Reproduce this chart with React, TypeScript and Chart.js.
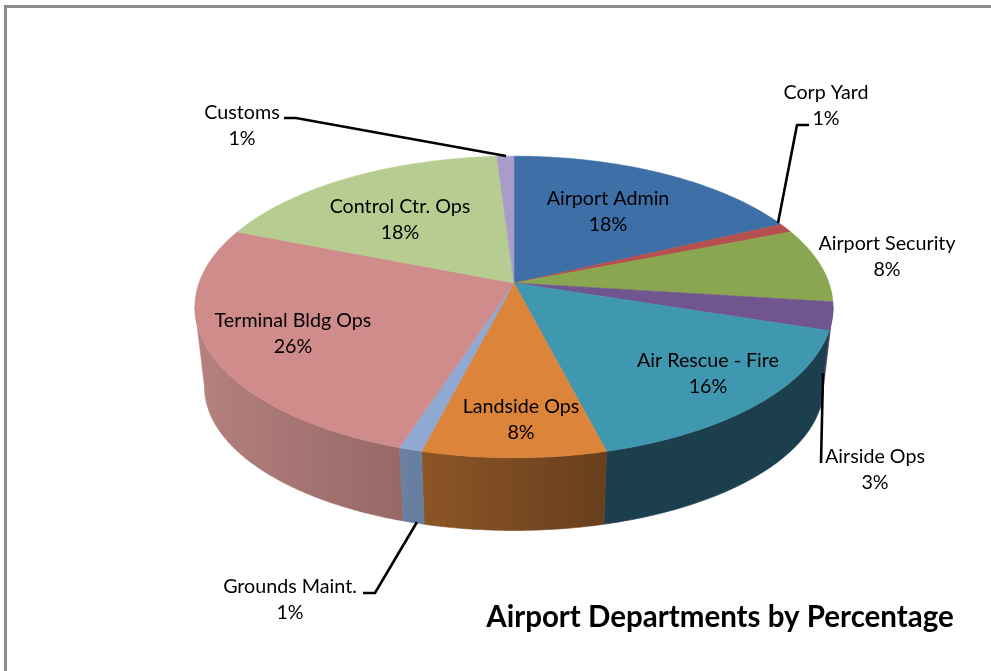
import React, { useEffect, useRef } from "react";
import { Chart, registerables } from "chart.js";

Chart.register(...registerables);

const departments = [
  "Airport Admin", "Corp Yard", "Airport Security", "Airside Ops", "Air Rescue - Fire",
  "Landside Ops", "Grounds Maint.", "Terminal Bldg Ops", "Control Ctr. Ops", "Customs",
];
const shares = [18, 1, 8, 3, 16, 8, 1, 26, 18, 1];
const topColors = [
  "#3f6fa7", "#b5504e", "#8aa650", "#71558f", "#4097b0",
  "#dc843a", "#8fa9d3", "#cf8c8b", "#b6cc90", "#a99cc9",
];
// Left and right ends of the horizontal shading on each slice's outer wall.
const wallShades = [
  ["#2c4e75", "#2c4e75"], ["#7d3735", "#7d3735"], ["#5f7337", "#5f7337"], ["#4c3961", "#4c3961"],
  ["#1c3f4d", "#1c3f4d"], ["#8c5526", "#683f1d"], ["#6a81a3", "#667d9e"], ["#b6817f", "#956866"],
  ["#7f8e64", "#7f8e64"], ["#74699a", "#74699a"],
];
const labelCenters = [
  [608, 199], [826, 93], [887, 244], [875, 457], [708, 361],
  [521, 407], [290, 587], [293, 321], [400, 207], [242, 113],
];
const leaderLines: (number[][] | null)[] = [
  null,
  [[809, 125], [797, 125], [778, 223]],
  null,
  [[823, 373], [821, 463]],
  null, null,
  [[363, 593], [375, 593], [417, 522]],
  null, null,
  [[284, 118], [296, 118], [506, 156]],
];
const chartTitle = "Airport Departments by Percentage";

const FONT = "Lato, 'Open Sans', sans-serif";
const LABEL_LINE = 26;
const VIEW_W = 991;
const VIEW_H = 671;

// Perspective of the tilted disc: top face and the smaller bottom face.
const TILT = 0.159;
const TOP_FACE = { xScale: 1, yScale: 147 / 315, dy: 0 };
const BOTTOM_FACE = { xScale: 0.97, yScale: 140 / 315, dy: 81 };
// The rim turns away from the viewer where the projected disc is widest.
const WALL_FROM = Math.asin(TILT);
const WALL_TO = Math.PI - WALL_FROM;

type Face = typeof TOP_FACE;

function project(arc: any, angle: number, face: Face) {
  const u = Math.cos(angle);
  const v = Math.sin(angle);
  const w = 1 - TILT * v;
  return {
    x: arc.x + (arc.outerRadius * face.xScale * u) / w,
    y: arc.y + face.dy + (arc.outerRadius * face.yScale * v) / w,
  };
}

function anglesBetween(start: number, end: number) {
  const steps = Math.max(2, Math.ceil((end - start) / 0.01));
  return Array.from({ length: steps + 1 }, (_, i) => start + ((end - start) * i) / steps);
}

const perspectivePie = {
  id: "perspectivePie",
  beforeDatasetDraw(chart: any) {
    const { ctx } = chart;
    const arcs = chart.getDatasetMeta(0).data;
    ctx.save();

    // Outer wall: only the part of the rim that faces the viewer.
    arcs.forEach((arc: any, i: number) => {
      const start = Math.max(arc.startAngle, WALL_FROM);
      const end = Math.min(arc.endAngle, WALL_TO);
      if (end <= start) return;
      const angles = anglesBetween(start, end);
      const upper = angles.map((a) => project(arc, a, TOP_FACE));
      const lower = angles.map((a) => project(arc, a, BOTTOM_FACE)).reverse();
      const outline = [...upper, ...lower];
      const xs = outline.map((p) => p.x);
      const gradient = ctx.createLinearGradient(Math.min(...xs), 0, Math.max(...xs), 0);
      gradient.addColorStop(0, wallShades[i][0]);
      gradient.addColorStop(1, wallShades[i][1]);
      ctx.fillStyle = gradient;
      ctx.strokeStyle = gradient;
      ctx.lineWidth = 0.6;
      ctx.beginPath();
      outline.forEach((p, k) => (k ? ctx.lineTo(p.x, p.y) : ctx.moveTo(p.x, p.y)));
      ctx.closePath();
      ctx.fill();
      ctx.stroke();
    });

    // Top face.
    arcs.forEach((arc: any) => {
      const color = arc.options.backgroundColor;
      ctx.fillStyle = color;
      ctx.strokeStyle = color;
      ctx.lineWidth = 0.6;
      ctx.beginPath();
      ctx.moveTo(arc.x, arc.y);
      anglesBetween(arc.startAngle, arc.endAngle).forEach((a) => {
        const p = project(arc, a, TOP_FACE);
        ctx.lineTo(p.x, p.y);
      });
      ctx.closePath();
      ctx.fill();
      ctx.stroke();
    });

    ctx.restore();
    return false;
  },
  afterDraw(chart: any) {
    const { ctx } = chart;
    ctx.save();

    ctx.strokeStyle = "#000";
    ctx.lineWidth = 2.6;
    ctx.lineJoin = "miter";
    leaderLines.forEach((line) => {
      if (!line) return;
      ctx.beginPath();
      line.forEach(([x, y], k) => (k ? ctx.lineTo(x, y) : ctx.moveTo(x, y)));
      ctx.stroke();
    });

    ctx.fillStyle = "#000";
    ctx.textAlign = "center";
    ctx.textBaseline = "middle";
    ctx.font = `19.7px ${FONT}`;
    departments.forEach((name, i) => {
      const [x, y] = labelCenters[i];
      ctx.fillText(name, x, y);
      ctx.fillText(`${shares[i]}%`, x, y + LABEL_LINE);
    });

    ctx.font = `bold 29.5px ${FONT}`;
    ctx.fillText(chartTitle, 720, 617);

    ctx.restore();
  },
};

export default function App() {
  const canvasRef = useRef<HTMLCanvasElement | null>(null);

  useEffect(() => {
    document.body.style.margin = "0";
    const chart = new Chart(canvasRef.current!, {
      type: "pie",
      data: {
        labels: departments,
        datasets: [{ data: shares, backgroundColor: topColors, borderWidth: 0 }],
      },
      options: {
        animation: false,
        responsive: false,
        radius: 315,
        layout: { padding: { left: 37, right: 0, top: 0, bottom: 105 } },
        plugins: { legend: { display: false }, tooltip: { enabled: false } },
      },
      plugins: [perspectivePie],
    } as any);
    return () => chart.destroy();
  }, []);

  return (
    <div style={{ position: "relative", width: VIEW_W, height: VIEW_H, overflow: "hidden", background: "#fff" }}>
      <canvas ref={canvasRef} width={VIEW_W} height={VIEW_H} style={{ display: "block" }} />
      <div
        style={{
          position: "absolute", left: 4, top: 5, right: -4, bottom: -4,
          borderLeft: "3px solid #8c8c8c", borderTop: "3px solid #8c8c8c",
          pointerEvents: "none",
        }}
      />
    </div>
  );
}
